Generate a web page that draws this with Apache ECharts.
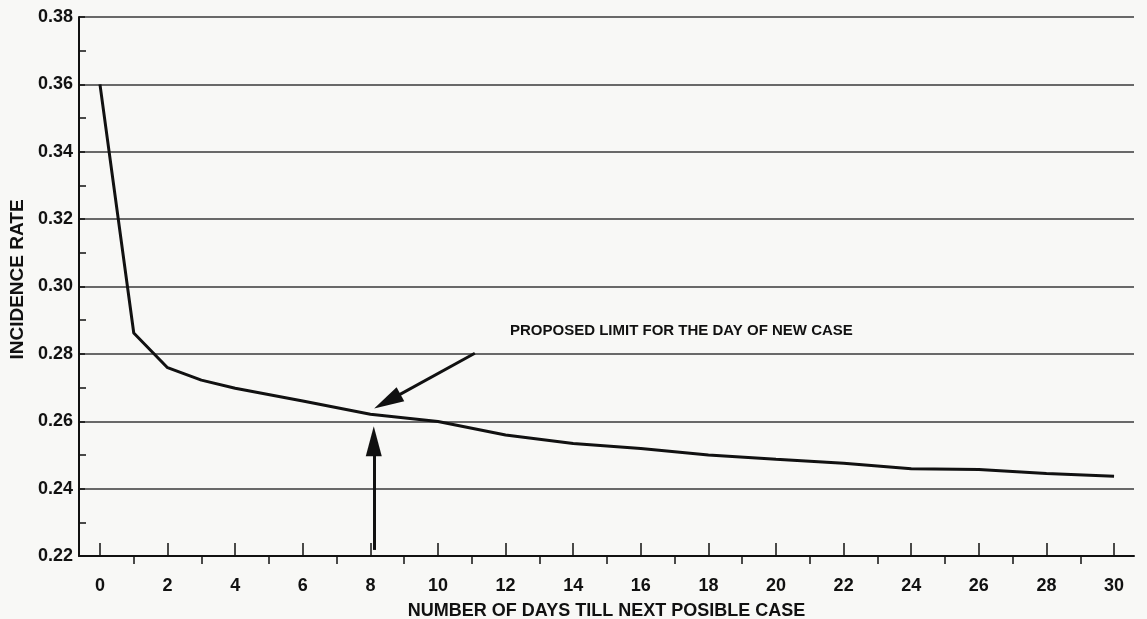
<!DOCTYPE html>
<html lang="en">

<head>
  <meta charset="UTF-8">
  <title>Incidence rate</title>
  <style>
    html, body { margin: 0; padding: 0; background: #f8f8f6; }
    #chart { width: 1147px; height: 619px; }
  </style>
</head>

<body>
  <div id="chart"></div>
</body>
<script src="https://cdn.jsdelivr.net/npm/echarts@6/dist/echarts.min.js"></script>
<script>
  // days and incidence rate
  var days = [0, 1, 2, 3, 4, 6, 8, 10, 12, 14, 16, 18, 20, 22, 24, 26, 28, 30]
  var rates = [0.360, 0.2862, 0.2759, 0.2722, 0.2698, 0.2660, 0.2621, 0.2599, 0.2559,
    0.2534, 0.2519, 0.2500, 0.2487, 0.2475, 0.2459, 0.2457, 0.2445, 0.2437]
  var majorDays = [0, 2, 4, 6, 8, 10, 12, 14, 16, 18, 20, 22, 24, 26, 28, 30]
  var minorDays = [1, 3, 5, 7, 9, 11, 13, 15, 17, 19, 21, 23, 25, 27, 29]
  var noteText = 'PROPOSED LIMIT FOR THE DAY OF NEW CASE'
  // arrow ends (tail, head centre), in day / rate units
  var slantArrow = [[11.09, 0.2802], [8.50, 0.2659]]
  var upArrow = [[8.1, 0.2218], [8.1, 0.2541]]

  var font = 'Liberation Sans, Arial, sans-serif'
  var ink = '#111'

  var chart = echarts.init(document.getElementById('chart'))
  var option = {
    backgroundColor: '#f8f8f6',
    animation: false,
    grid: { left: 79, right: 13, top: 17, bottom: 63, outerBoundsMode: 'none' },
    graphic: [{
      type: 'text',
      left: 510,
      top: 323,
      style: { text: noteText, font: 'bold 15px ' + font, fill: ink }
    }],
    xAxis: [{
      type: 'value',
      min: -0.62,
      max: 30.59,
      position: 'bottom',
      name: 'NUMBER OF DAYS TILL NEXT POSIBLE CASE',
      nameLocation: 'middle',
      nameGap: 46,
      nameTextStyle: { color: ink, fontFamily: font, fontWeight: 'bold', fontSize: 18 },
      axisLine: { show: true, onZero: false, lineStyle: { color: ink, width: 2 } },
      axisTick: { show: true, inside: true, length: 13, customValues: majorDays, lineStyle: { color: ink, width: 1.5 } },
      axisLabel: { customValues: majorDays, margin: 21, color: ink, fontFamily: font, fontWeight: 'bold', fontSize: 18 },
      splitLine: { show: false }
    }, {
      type: 'value',
      min: -0.62,
      max: 30.59,
      position: 'bottom',
      axisLine: { show: false },
      axisTick: { show: true, inside: false, length: 8, customValues: minorDays, lineStyle: { color: ink, width: 1.5 } },
      axisLabel: { show: false },
      splitLine: { show: false }
    }],
    yAxis: {
      type: 'value',
      min: 0.22,
      max: 0.38,
      interval: 0.02,
      name: 'INCIDENCE RATE',
      nameLocation: 'middle',
      nameGap: 52,
      nameRotate: 90,
      nameTextStyle: { color: ink, fontFamily: font, fontWeight: 'bold', fontSize: 19, padding: [0, 0, 0, 14] },
      axisLine: { show: true, onZero: false, lineStyle: { color: ink, width: 2 } },
      axisTick: { show: true, inside: true, length: 6, lineStyle: { color: ink, width: 1.5 } },
      minorTick: { show: true, splitNumber: 2, length: 7, lineStyle: { color: ink, width: 1.5 } },
      axisLabel: {
        margin: 6, color: ink, fontFamily: font, fontWeight: 'bold', fontSize: 18,
        formatter: function (v) { return v.toFixed(2) }
      },
      splitLine: { show: true, lineStyle: { color: '#3a3a3a', width: 1.5 } }
    },
    series: [{
      type: 'line',
      xAxisIndex: 0,
      data: days.map(function (d, i) { return [d, rates[i]] }),
      symbol: 'none',
      lineStyle: { color: ink, width: 3 },
      markLine: {
        silent: true,
        symbol: ['none', 'triangle'],
        symbolSize: [16, 30],
        label: { show: false },
        lineStyle: { color: ink, width: 3, type: 'solid' },
        data: [
          [{ coord: slantArrow[0] }, { coord: slantArrow[1] }],
          [{ coord: upArrow[0] }, { coord: upArrow[1] }]
        ]
      }
    }]
  }
  chart.setOption(option)
</script>

</html>
